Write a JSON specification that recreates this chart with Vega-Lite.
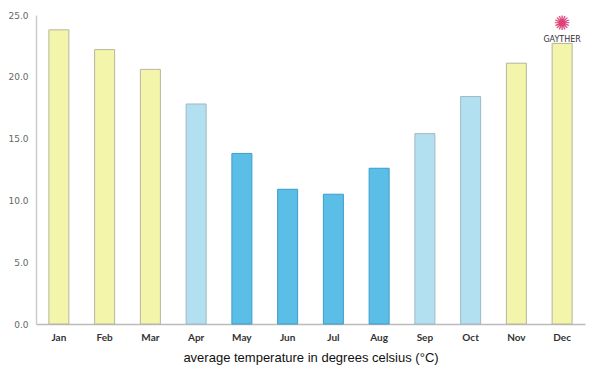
{
  "$schema": "https://vega.github.io/schema/vega-lite/v6.json",
  "width": 549,
  "height": 309,
  "autosize": {"type": "none"},
  "padding": {"left": 36, "top": 15, "right": 15, "bottom": 51},
  "background": "white",
  "config": {"view": {"stroke": null}},
  "data": {
    "values": [
      {"month": "Jan", "temp": 23.8, "season": "warm"},
      {"month": "Feb", "temp": 22.2, "season": "warm"},
      {"month": "Mar", "temp": 20.6, "season": "warm"},
      {"month": "Apr", "temp": 17.8, "season": "mild"},
      {"month": "May", "temp": 13.8, "season": "cool"},
      {"month": "Jun", "temp": 10.9, "season": "cool"},
      {"month": "Jul", "temp": 10.5, "season": "cool"},
      {"month": "Aug", "temp": 12.6, "season": "cool"},
      {"month": "Sep", "temp": 15.4, "season": "mild"},
      {"month": "Oct", "temp": 18.4, "season": "mild"},
      {"month": "Nov", "temp": 21.1, "season": "warm"},
      {"month": "Dec", "temp": 22.7, "season": "warm"}
    ]
  },
  "layer": [
    {
      "mark": {"type": "bar", "width": 20, "strokeWidth": 1},
      "encoding": {
        "x": {
          "field": "month", "type": "nominal", "sort": null,
          "scale": {"paddingInner": 0, "paddingOuter": 0},
          "axis": {
            "title": "average temperature in degrees celsius (°C)",
            "titleFont": "Liberation Sans", "titleFontSize": 13, "titleFontWeight": "normal",
            "titleColor": "#111", "titlePadding": 9,
            "labelAngle": 0, "labelFont": "Lato", "labelFontSize": 10, "labelFontWeight": "bold",
            "labelColor": "#333", "labelPadding": 8,
            "ticks": false, "domainColor": "#bbb", "domainWidth": 1.5
          }
        },
        "y": {
          "field": "temp", "type": "quantitative",
          "scale": {"domain": [0, 25], "nice": false},
          "axis": {
            "title": null, "values": [0, 5, 10, 15, 20, 25], "format": ".1f",
            "grid": false, "ticks": false, "domainColor": "#ccc", "domainWidth": 1.5,
            "labelFont": "DejaVu Sans", "labelFontSize": 9, "labelColor": "#666", "labelPadding": 8
          }
        },
        "fill": {
          "field": "season", "type": "nominal", "legend": null,
          "scale": {"domain": ["warm", "mild", "cool"], "range": ["#f3f5aa", "#b2e0f1", "#5bbee6"]}
        },
        "stroke": {
          "field": "season", "type": "nominal", "legend": null,
          "scale": {"domain": ["warm", "mild", "cool"], "range": ["#b5b5a0", "#9fb8c4", "#3d9ccc"]}
        }
      }
    },
    {
      "data": {"values": [{"month": "Dec", "y": 23.0, "label": "GAYTHER"}]},
      "mark": {"type": "text", "font": "DejaVu Sans", "fontSize": 8, "color": "#333", "baseline": "middle"},
      "encoding": {
        "x": {"field": "month", "type": "nominal", "sort": null},
        "y": {"field": "y", "type": "quantitative"},
        "text": {"field": "label"}
      }
    },
    {
      "data": {"values": [{"month": "Dec", "y": 23.0, "label": "✺"}]},
      "mark": {"type": "text", "font": "DejaVu Sans", "fontSize": 20, "color": "#e0407a", "baseline": "middle", "dy": -16},
      "encoding": {
        "x": {"field": "month", "type": "nominal", "sort": null},
        "y": {"field": "y", "type": "quantitative"},
        "text": {"field": "label"}
      }
    }
  ]
}
